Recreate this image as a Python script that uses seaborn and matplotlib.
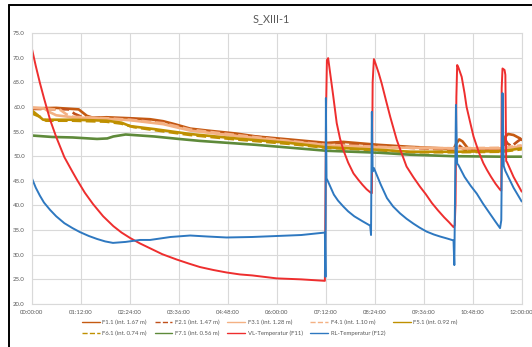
import pandas as pd
import matplotlib.pyplot as plt
import matplotlib.lines as mlines
import seaborn as sns

# ================= 1. Daten (Stunden seit Start, °C) =================
t_f1 = [0, 0.6, 1.15, 1.35, 1.5, 1.83, 2.41, 2.9, 3.22, 3.5, 3.88, 4.3, 5.0, 5.5, 6.3, 7.22, 7.63, 8.5,
        9.27, 10.0, 10.33, 10.4, 10.47, 10.55, 10.7, 11.0, 11.55, 11.6, 11.67, 11.8, 11.96, 12.0]
f1 = [59.7, 59.8, 59.5, 58.2, 57.8, 57.9, 57.7, 57.5, 57.1, 56.5, 55.6, 55.2, 54.6, 54.0, 53.4, 52.7, 52.9, 52.3,
      51.9, 51.6, 51.4, 52.6, 53.4, 53.0, 51.4, 51.4, 51.3, 54.0, 54.5, 54.3, 53.6, 53.3]

t_f2 = [0, 0.9, 1.05, 1.25, 1.83, 2.41, 3.22, 3.88, 5.0, 6.3, 7.22, 8.5, 9.27, 10.33, 10.45, 10.6,
        11.5, 11.58, 11.65, 11.75, 11.9, 12.0]
f2 = [59.6, 59.5, 58.6, 57.9, 57.7, 57.6, 56.9, 55.4, 54.4, 53.2, 52.5, 52.1, 51.7, 51.3, 52.3, 51.3,
      51.2, 53.6, 52.6, 52.0, 53.0, 53.6]

t_f3 = [0, 0.3, 0.45, 0.6, 1.0, 1.83, 2.41, 3.22, 3.88, 5.0, 6.3, 7.22, 8.5, 9.27, 10.33, 11.5, 12.0]
f3 = [59.8, 59.7, 58.9, 58.3, 57.9, 57.6, 57.3, 56.5, 55.2, 54.1, 53.0, 52.2, 51.8, 51.7, 51.6, 51.6, 52.0]

t_f4 = [0, 0.7, 0.85, 1.0, 1.83, 2.41, 3.22, 3.88, 5.0, 6.3, 7.22, 8.5, 9.27, 10.33, 11.5, 12.0]
f4 = [59.9, 59.4, 58.5, 58.0, 57.7, 57.4, 56.7, 55.4, 54.3, 53.1, 52.3, 51.9, 51.7, 51.6, 51.7, 52.2]

t_f5 = [0, 0.15, 0.28, 1.0, 1.83, 2.2, 2.41, 3.0, 3.88, 5.0, 6.3, 7.22, 8.5, 9.27, 10.33, 11.5, 12.0]
f5 = [59.3, 58.3, 57.4, 57.4, 57.2, 56.8, 56.1, 55.5, 54.5, 53.6, 52.7, 51.8, 51.3, 50.9, 50.9, 51.0, 51.6]

t_f6 = [0, 0.2, 0.35, 1.0, 1.83, 2.2, 2.5, 3.0, 3.88, 5.0, 6.3, 7.22, 8.5, 9.27, 10.33, 11.5, 12.0]
f6 = [58.7, 58.0, 57.2, 57.2, 57.0, 56.6, 55.9, 55.3, 54.3, 53.4, 52.5, 51.7, 51.2, 50.8, 50.8, 50.9, 51.4]

t_f7 = [0, 0.5, 1.0, 1.6, 1.85, 2.0, 2.3, 3.0, 3.6, 4.12, 5.5, 7.22, 8.5, 9.27, 10.33, 11.5, 12.0]
f7 = [54.2, 53.9, 53.8, 53.5, 53.6, 54.0, 54.4, 54.0, 53.5, 53.1, 52.3, 51.1, 50.7, 50.3, 50.0, 49.9, 49.9]

t_vl = [0, 0.1, 0.2, 0.3, 0.45, 0.6, 0.8, 1.0, 1.11, 1.3, 1.5, 1.75, 2.0, 2.2, 2.41, 2.65, 2.9, 3.2,
        3.56, 3.85, 4.12, 4.45, 4.77, 5.1, 5.4, 6.0, 6.6, 7.18,
        7.21, 7.23, 7.26, 7.31, 7.38, 7.47, 7.55, 7.63, 7.75, 7.88, 8.0, 8.1, 8.2, 8.3,
        8.33, 8.35, 8.38, 8.42, 8.5, 8.57, 8.68, 8.78, 8.94, 9.05, 9.18, 9.35, 9.51, 9.65, 9.8,
        9.95, 10.1, 10.22, 10.33,
        10.36, 10.38, 10.4, 10.42, 10.45, 10.53, 10.6, 10.65, 10.74, 10.82, 10.95, 11.06, 11.15,
        11.25, 11.36, 11.47,
        11.5, 11.51, 11.53, 11.58, 11.6, 11.62, 11.64, 11.8, 12.0]
vl = [72.0, 68.3, 64.9, 61.8, 57.4, 53.9, 49.8, 46.8, 45.2, 42.6, 40.3, 37.8, 35.8, 34.5, 33.4, 32.3, 31.3, 30.1,
      29.0, 28.2, 27.5, 26.9, 26.4, 26.0, 25.8, 25.2, 25.0, 24.7,
      60.0, 69.5, 69.9, 66.8, 62.5, 56.7, 53.6, 51.3, 48.7, 46.5, 45.2, 44.2, 43.3, 42.6,
      42.5, 65.0, 69.7, 68.8, 66.8, 64.8, 61.2, 58.0, 53.3, 50.8, 47.9, 45.7, 43.8, 42.3, 40.5,
      39.0, 37.6, 36.6, 35.6,
      36.0, 40.5, 62.0, 68.5, 68.0, 66.1, 62.8, 60.0, 56.8, 54.0, 50.8, 48.6, 47.2,
      45.8, 44.4, 43.2,
      43.0, 63.8, 67.8, 67.5, 66.5, 49.0, 48.8, 45.8, 42.8]

t_rl = [0, 0.1, 0.2, 0.3, 0.45, 0.6, 0.8, 1.0, 1.18, 1.4, 1.6, 1.8, 1.99, 2.3, 2.65, 2.9, 3.4, 3.88,
        4.3, 4.77, 5.4, 6.0, 6.6, 7.18,
        7.195, 7.205, 7.22, 7.26, 7.4, 7.5, 7.63, 7.75, 7.9, 8.1, 8.29,
        8.31, 8.33, 8.35, 8.38, 8.45, 8.55, 8.7, 8.85, 9.02, 9.18, 9.35, 9.5, 9.67, 9.85, 10.0,
        10.17, 10.33,
        10.35, 10.39, 10.42, 10.45, 10.6, 10.75, 10.9, 11.05, 11.2, 11.35, 11.47,
        11.5, 11.53, 11.56, 11.6, 11.63, 11.8, 12.0]
rl = [45.6, 43.6, 42.0, 40.6, 39.1, 37.8, 36.4, 35.4, 34.6, 33.8, 33.2, 32.7, 32.4, 32.6, 33.0, 33.0, 33.6, 33.9,
      33.7, 33.5, 33.6, 33.8, 34.0, 34.5,
      25.5, 61.8, 45.5, 44.8, 42.2, 41.0, 39.8, 38.8, 37.8, 36.8, 35.9,
      34.0, 59.0, 46.9, 47.6, 46.2, 44.2, 41.5, 39.8, 38.4, 37.3, 36.3, 35.5, 34.7, 34.1, 33.7,
      33.3, 32.9,
      27.9, 60.4, 48.5, 48.2, 45.8, 44.0, 42.4, 40.4, 38.6, 36.8, 35.4,
      37.0, 62.8, 48.0, 47.0, 46.5, 43.6, 40.8]

series_labels = ['F1.1 (int. 1.67 m)', 'F2.1 (int. 1.47 m)', 'F3.1 (int. 1.28 m)', 'F4.1 (int. 1.10 m)',
                 'F5.1 (int. 0.92 m)', 'F6.1 (int. 0.74 m)', 'F7.1 (int. 0.56 m)',
                 'VL-Temperatur (F11)', 'RL-Temperatur (F12)']
x_ticks = [0, 1.2, 2.4, 3.6, 4.8, 6.0, 7.2, 8.4, 9.6, 10.8, 12.0]
x_tick_labels = ['00:00:00', '01:12:00', '02:24:00', '03:36:00', '04:48:00', '06:00:00',
                 '07:12:00', '08:24:00', '09:36:00', '10:48:00', '12:00:00']
y_ticks = [20, 25, 30, 35, 40, 45, 50, 55, 60, 65, 70, 75]

# ================= 2. Stil =================
sns.set_theme(style="whitegrid")
plt.rcParams['font.family'] = ['Lato', 'DejaVu Sans']
grid_c = '#D9D9D9'
text_c = '#595959'

# (Zeit, Werte, Farbe, Linienstil, Linienbreite)
series = [
    (t_f1, f1, '#C55A11', '-', 1.9),
    (t_f2, f2, '#C0501A', '--', 1.9),
    (t_f3, f3, '#F4B183', '-', 1.9),
    (t_f4, f4, '#F4B183', '--', 1.9),
    (t_f5, f5, '#BF9000', '-', 1.9),
    (t_f6, f6, '#BF9000', '--', 1.9),
    (t_f7, f7, '#5E8A3A', '-', 1.9),
    (t_vl, vl, '#EE2E2E', '-', 1.4),
    (t_rl, rl, '#2E78C0', '-', 1.4),
]

fig = plt.figure(figsize=(5.32, 3.47), dpi=100)
ax = fig.add_axes([31.7 / 532, 1 - 304 / 347, 490 / 532, 271 / 347])

handles = []
for (tt, vv, col, ls, lw), lab in zip(series, series_labels):
    df = pd.DataFrame({'t': tt, 'v': vv})
    sns.lineplot(data=df, x='t', y='v', ax=ax, color=col, linestyle=ls,
                 linewidth=lw, sort=False, estimator=None)
    handles.append(mlines.Line2D([], [], color=col, linestyle=ls, linewidth=1.0, label=lab))

ax.set_xlim(0, 12)
ax.set_ylim(20, 75)
ax.set_xticks(x_ticks)
ax.set_xticklabels(x_tick_labels)
ax.set_yticks(y_ticks)
ax.set_yticklabels([f'{y:.1f}' for y in y_ticks])
ax.set_xlabel('')
ax.set_ylabel('')
ax.grid(True, color=grid_c, linewidth=0.8)
for s in ax.spines.values():
    s.set_color(grid_c)
    s.set_linewidth(0.8)
ax.tick_params(axis='both', length=0, labelsize=4.3, colors=text_c)
ax.tick_params(axis='y', pad=5)
ax.tick_params(axis='x', pad=4)
if ax.get_legend() is not None:
    ax.get_legend().remove()

fig.text(271 / 532, 1 - 19 / 347, 'S_XIII-1', ha='center', va='center', fontsize=7.8, color=text_c)

# Legende: Zeile 1 = F1..F5, Zeile 2 = F6, F7, VL, RL (spaltenweise sortiert)
order = [0, 5, 1, 6, 2, 7, 3, 8, 4]
fig.legend([handles[i] for i in order], [series_labels[i] for i in order],
           loc='upper left', bbox_to_anchor=(82 / 532, 1 - 320 / 347), ncol=5, frameon=False,
           fontsize=4.3, handlelength=3.0, handletextpad=0.4, columnspacing=1.3,
           labelspacing=0.9, borderpad=0, borderaxespad=0, labelcolor=text_c)

# schwarzer Rahmen (im Original nur oben und links sichtbar)
fig.add_artist(mlines.Line2D([8.5 / 532, 1], [1 - 5 / 347, 1 - 5 / 347], color='black', linewidth=1.4))
fig.add_artist(mlines.Line2D([9 / 532, 9 / 532], [0, 1 - 5 / 347], color='black', linewidth=1.4))

fig.savefig('out.png', dpi=100)
